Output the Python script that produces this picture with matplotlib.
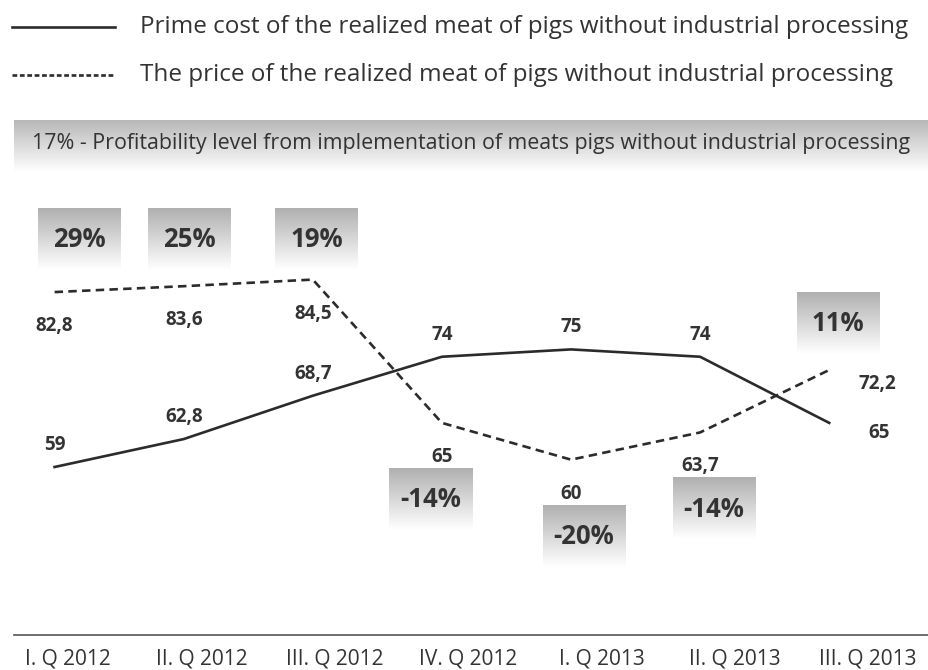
import numpy as np
import matplotlib
matplotlib.use("Agg")
import matplotlib.pyplot as plt
from matplotlib import font_manager
from matplotlib.lines import Line2D

# --- data -------------------------------------------------------------
quarters = ["I. Q 2012", "II. Q 2012", "III. Q 2012", "IV. Q 2012",
            "I. Q 2013", "II. Q 2013", "III. Q 2013"]
prime_cost = [59, 62.8, 68.7, 74, 75, 74, 65]
price = [82.8, 83.6, 84.5, 65, 60, 63.7, 72.2]
profitability = [29, 25, 19, -14, -20, -14, 11]

legend_cost = "Prime cost of the realized meat of pigs without industrial processing"
legend_price = "The price of the realized meat of pigs without industrial processing"
header_text = "17% - Profitability level from implementation of meats pigs without industrial processing"

# --- style ------------------------------------------------------------
W, H, DPI = 929, 670, 100
INK = "#2b2b2b"
TXT = "#333333"

names = {f.name for f in font_manager.fontManager.ttflist}
FONT = "Open Sans" if "Open Sans" in names else "DejaVu Sans"
plt.rcParams["font.family"] = [FONT, "DejaVu Sans"]

fig = plt.figure(figsize=(W / DPI, H / DPI), dpi=DPI)
renderer = fig.canvas.get_renderer()


def fx(px):
    return px / W


def fy(py):
    return 1 - py / H


def size_for_width(text, target_px, base=15):
    """Font size at which `text` is target_px wide."""
    t = fig.text(0, 0, text, fontsize=base)
    w = t.get_window_extent(renderer).width
    t.remove()
    return base * target_px / w


def gradient_panel(left, top, width, height, g0=0.70, g1=1.0, z=0):
    a = fig.add_axes([fx(left), fy(top + height), width / W, height / H], zorder=z)
    grad = np.linspace(g0, g1, 64)[:, None]
    a.imshow(grad, cmap="gray", vmin=0, vmax=1, aspect="auto",
             extent=(0, 1, 0, 1), origin="upper", interpolation="bicubic")
    a.set_xlim(0, 1)
    a.set_ylim(0, 1)
    a.axis("off")
    return a


# --- legend -----------------------------------------------------------
fig.add_artist(Line2D([fx(12), fx(115)], [fy(27), fy(27)], color=INK, lw=1.9))
fig.add_artist(Line2D([fx(12), fx(115)], [fy(75), fy(75)], color=INK, lw=1.9,
                      dashes=(1.8, 1.0)))
leg_size = size_for_width(legend_cost, 767)
fig.text(fx(140), fy(27), legend_cost, fontsize=leg_size,
         color=TXT, va="center", ha="left")
fig.text(fx(140), fy(75), legend_price, fontsize=leg_size,
         color=TXT, va="center", ha="left")

# --- header band ------------------------------------------------------
band = gradient_panel(14, 120, W - 14, 52, g0=0.72, g1=1.0)
band.text((32 - 14) / (W - 14), 0.55, header_text,
          fontsize=size_for_width(header_text, 878), color=TXT,
          ha="left", va="center")

# --- main axes --------------------------------------------------------
ax_left, ax_right, ax_top, ax_bottom = 14, W, 200, 635
ax = fig.add_axes([fx(ax_left), fy(ax_bottom), (ax_right - ax_left) / W,
                   (ax_bottom - ax_top) / H], zorder=2)
ax.patch.set_visible(False)

x0_px, dx_px = 54.6, 129.1          # pixel position of first point / spacing
y0_px, dy_px = 467.0, 7.35          # pixel position of value 59 / px per unit
ax.set_xlim((ax_left - x0_px) / dx_px, (ax_right - x0_px) / dx_px)
ax.set_ylim(59 - (ax_bottom - y0_px) / dy_px, 59 + (y0_px - ax_top) / dy_px)

x = np.arange(len(quarters))
ax.plot(x, prime_cost, color=INK, lw=1.9, solid_joinstyle="round")
ax.plot(x, price, color=INK, lw=1.9, dashes=(3.2, 2.0))

for s in ("top", "right", "left"):
    ax.spines[s].set_visible(False)
ax.spines["bottom"].set_color("#555555")
ax.spines["bottom"].set_linewidth(1.2)
ax.set_yticks([])
ax.set_xticks(x * 1.033 + 0.104)
ax.set_xticklabels(quarters, fontsize=size_for_width(quarters[0], 86), color=TXT)
ax.tick_params(axis="x", length=0, pad=10)

# value labels
n = len(quarters)
for i in range(n):
    last = i == n - 1
    off_c = (50, 10) if last else (0, -22)
    off_p = (48, 14) if last else (0, 34)
    ax.annotate(f"{prime_cost[i]:g}".replace(".", ","), (x[i], prime_cost[i]),
                xytext=(off_c[0] * 0.72, -off_c[1] * 0.72), textcoords="offset points",
                ha="center", va="center", fontweight="bold",
                fontsize=13.5, color=TXT)
    ax.annotate(f"{price[i]:g}".replace(".", ","), (x[i], price[i]),
                xytext=(off_p[0] * 0.72, -off_p[1] * 0.72), textcoords="offset points",
                ha="center", va="center", fontweight="bold",
                fontsize=13.5, color=TXT)

# profitability boxes: the 2012 gains sit on one row above the price line,
# the others hang off their own price point
box_dx = [25, 6, 4, -11, 13, 14, 9]
BW, BH = 83, 62
row_px = y0_px - (max(price[:3]) - 59) * dy_px - 72
for i, p in enumerate(profitability):
    px_x = x0_px + dx_px * i
    px_y = y0_px - (price[i] - 59) * dy_px
    if p > 0:
        top = row_px if i < 3 else px_y - 78
    else:
        top = px_y + 45
    left = px_x + box_dx[i] - BW / 2
    b = gradient_panel(left, top, BW, BH, g0=0.69, g1=1.0, z=1)
    b.text(0.5, 1 - 32 / BH, f"{p}%", ha="center", va="center",
           fontweight="bold", fontsize=18.5, color=TXT)

fig.savefig("out.png", dpi=DPI)
